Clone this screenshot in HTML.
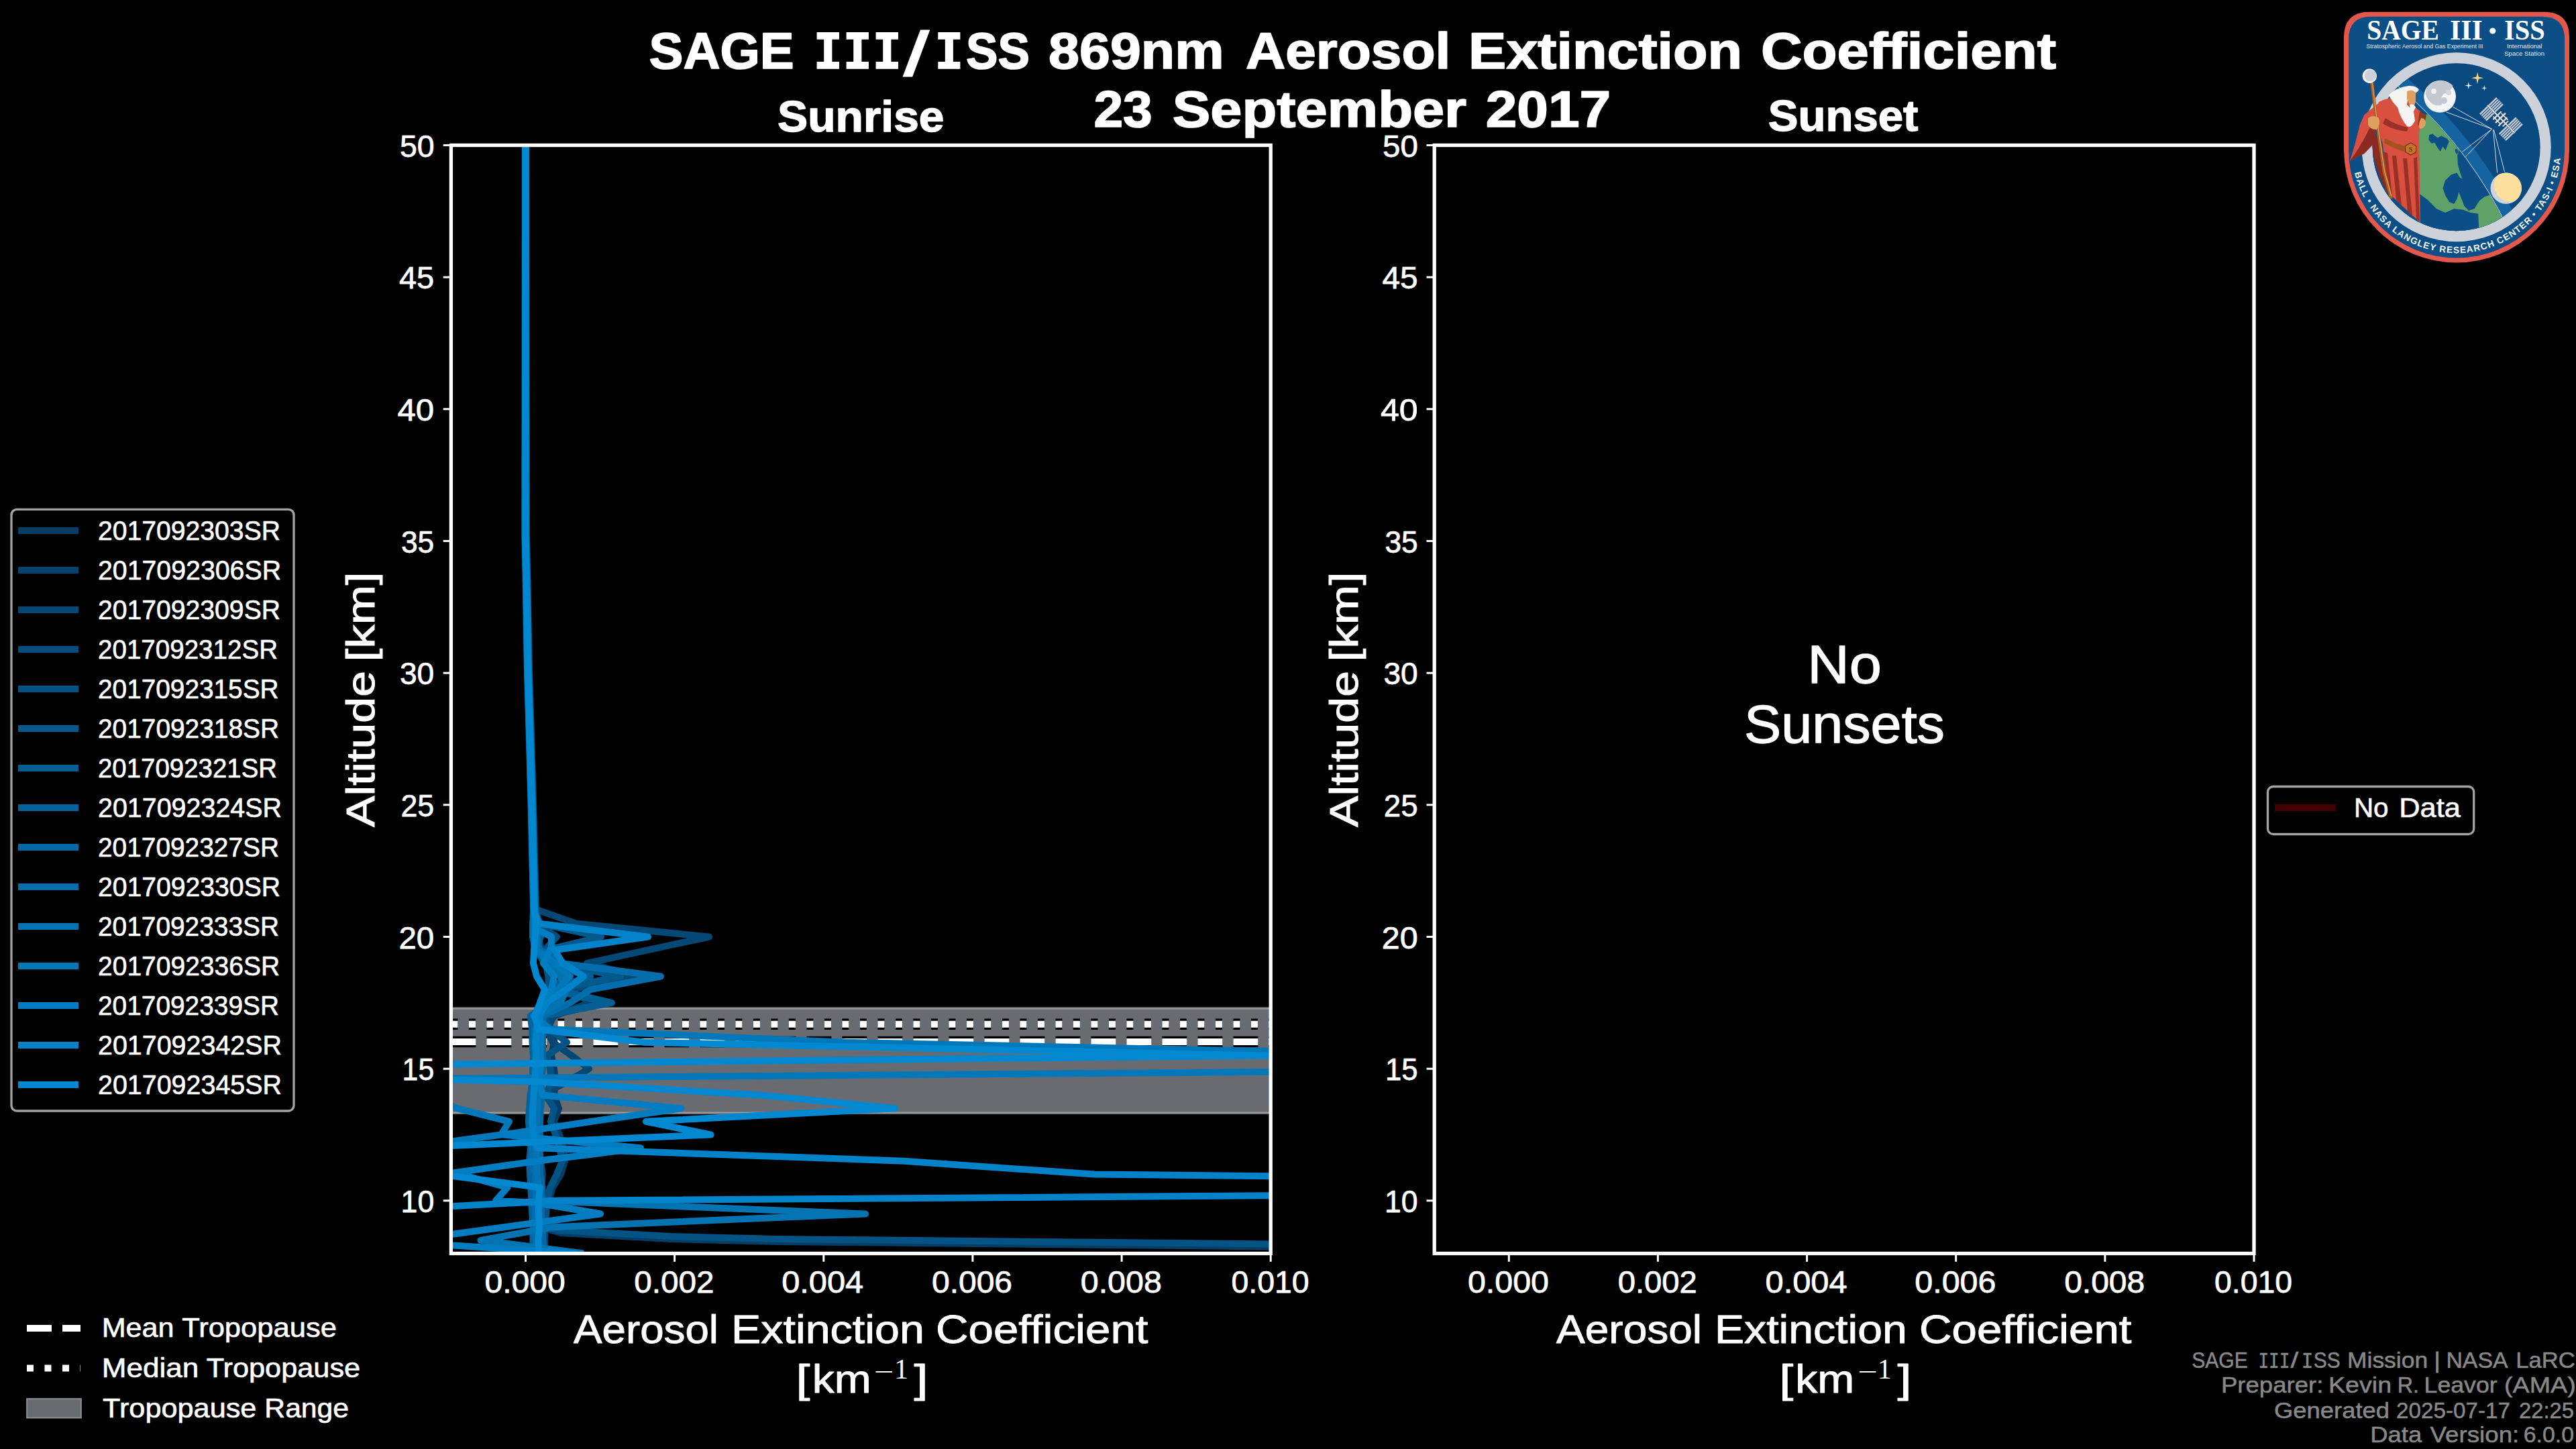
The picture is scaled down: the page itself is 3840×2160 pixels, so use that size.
<!DOCTYPE html>
<html><head><meta charset="utf-8"><title>SAGE III/ISS 869nm Aerosol Extinction Coefficient</title>
<style>html,body{margin:0;padding:0;background:#000;overflow:hidden}svg{display:block}text{white-space:pre}</style>
</head><body>
<svg width="3840" height="2160" viewBox="0 0 3840 2160">
<rect width="3840" height="2160" fill="#000"/>
<text x="967.50" y="101.8" font-size="76.7" font-family="'Liberation Sans', sans-serif" font-weight="bold" fill="#fff" text-anchor="start" textLength="216.2" lengthAdjust="spacingAndGlyphs" stroke="#fff" stroke-width="1.69" stroke-linejoin="round">SAGE</text>
<text x="1212.20" y="101.8" font-size="72.5" font-family="'DejaVu Sans Mono', monospace" font-weight="bold" fill="#fff" text-anchor="start" textLength="132.2" lengthAdjust="spacingAndGlyphs" stroke="#fff" stroke-width="1.5">III</text>
<text x="1348.50" y="112.0" font-size="90" font-family="'Liberation Sans', sans-serif" font-weight="normal" fill="#fff" text-anchor="start" textLength="34.9" lengthAdjust="spacingAndGlyphs" stroke="#fff" stroke-width="3.2">/</text>
<text x="1393.00" y="101.8" font-size="72.5" font-family="'DejaVu Sans Mono', monospace" font-weight="bold" fill="#fff" text-anchor="start" textLength="43.7" lengthAdjust="spacingAndGlyphs" stroke="#fff" stroke-width="1.5">I</text>
<text x="1440.00" y="101.8" font-size="76.7" font-family="'Liberation Sans', sans-serif" font-weight="bold" fill="#fff" text-anchor="start" textLength="95.0" lengthAdjust="spacingAndGlyphs" stroke="#fff" stroke-width="1.69" stroke-linejoin="round">SS</text>
<text x="1563.10" y="101.8" font-size="76.7" font-family="'Liberation Sans', sans-serif" font-weight="bold" fill="#fff" text-anchor="start" textLength="261.5" lengthAdjust="spacingAndGlyphs" stroke="#fff" stroke-width="1.69" stroke-linejoin="round">869nm</text>
<text x="1857.00" y="101.8" font-size="76.7" font-family="'Liberation Sans', sans-serif" font-weight="bold" fill="#fff" text-anchor="start" textLength="305.3" lengthAdjust="spacingAndGlyphs" stroke="#fff" stroke-width="1.69" stroke-linejoin="round">Aerosol</text>
<text x="2189.10" y="101.8" font-size="76.7" font-family="'Liberation Sans', sans-serif" font-weight="bold" fill="#fff" text-anchor="start" textLength="408.0" lengthAdjust="spacingAndGlyphs" stroke="#fff" stroke-width="1.69" stroke-linejoin="round">Extinction</text>
<text x="2625.10" y="101.8" font-size="76.7" font-family="'Liberation Sans', sans-serif" font-weight="bold" fill="#fff" text-anchor="start" textLength="439.9" lengthAdjust="spacingAndGlyphs" stroke="#fff" stroke-width="1.69" stroke-linejoin="round">Coefficient</text>
<text x="1630.40" y="189.1" font-size="76.7" font-family="'Liberation Sans', sans-serif" font-weight="bold" fill="#fff" text-anchor="start" textLength="87.4" lengthAdjust="spacingAndGlyphs" stroke="#fff" stroke-width="1.69" stroke-linejoin="round">23</text>
<text x="1747.80" y="189.1" font-size="76.7" font-family="'Liberation Sans', sans-serif" font-weight="bold" fill="#fff" text-anchor="start" textLength="438.3" lengthAdjust="spacingAndGlyphs" stroke="#fff" stroke-width="1.69" stroke-linejoin="round">September</text>
<text x="2214.70" y="189.1" font-size="76.7" font-family="'Liberation Sans', sans-serif" font-weight="bold" fill="#fff" text-anchor="start" textLength="186.4" lengthAdjust="spacingAndGlyphs" stroke="#fff" stroke-width="1.69" stroke-linejoin="round">2017</text>
<text x="1159.00" y="195.6" font-size="65" font-family="'Liberation Sans', sans-serif" font-weight="bold" fill="#fff" text-anchor="start" textLength="248.5" lengthAdjust="spacingAndGlyphs" stroke="#fff" stroke-width="1.43" stroke-linejoin="round">Sunrise</text>
<text x="2635.70" y="195.4" font-size="65" font-family="'Liberation Sans', sans-serif" font-weight="bold" fill="#fff" text-anchor="start" textLength="223.8" lengthAdjust="spacingAndGlyphs" stroke="#fff" stroke-width="1.43" stroke-linejoin="round">Sunset</text>
<clipPath id="clipA"><rect x="672.4" y="216.5" width="1221.8" height="1652.0"/></clipPath>
<g clip-path="url(#clipA)">
<rect x="672.4" y="1501.35" width="1221.8" height="159.50" fill="#7d8081"/>
<rect x="672.4" y="1503.00" width="1221.8" height="156.20" fill="#9da0a1"/>
<rect x="672.4" y="1504.65" width="1221.8" height="152.90" fill="#686b70"/>
<line x1="672.4" x2="1894.2" y1="1526.7" y2="1526.7" stroke="#000" stroke-width="16.5" stroke-dasharray="10 16.5"/>
<line x1="672.4" x2="1894.2" y1="1526.7" y2="1526.7" stroke="#fff" stroke-width="10" stroke-dasharray="10 16.5"/>
<line x1="672.4" x2="1894.2" y1="1553" y2="1553" stroke="#000" stroke-width="16.5" stroke-dasharray="37 16"/>
<line x1="672.4" x2="1894.2" y1="1553" y2="1553" stroke="#fff" stroke-width="10" stroke-dasharray="37 16"/>
<polyline points="783.9,216.5 784.9,800.0 786.1,850.0 789.0,1000.0 792.1,1100.0 795.1,1200.0 799.1,1357.1 799.5,1376.8 803.0,1396.5 807.0,1416.2 813.1,1435.8 818.9,1455.5 821.3,1475.2 816.0,1494.8 813.6,1514.5 822.0,1534.2 826.0,1553.8 822.0,1573.5 826.0,1593.2 828.0,1612.8 826.0,1632.5 833.0,1652.2 826.0,1671.8 834.0,1691.5 840.0,1711.2 842.0,1730.8 836.0,1750.5 824.0,1770.2 818.0,1789.8 812.0,1809.5 805.0,1829.2 836.0,1838.0 1000.0,1847.0 1160.0,1851.0 1900.0,1858.5" fill="none" stroke="#043e66" stroke-width="10" stroke-linejoin="round" stroke-linecap="butt"/>
<polyline points="783.7,216.5 784.3,800.0 785.5,850.0 788.2,1000.0 791.3,1100.0 794.2,1200.0 798.1,1357.1 803.6,1357.2 859.0,1376.8 1057.0,1396.5 966.0,1416.2 875.0,1435.8 952.0,1455.5 850.0,1475.2 880.0,1494.8 826.0,1514.5 815.0,1534.2 824.0,1553.8 852.0,1573.5 878.0,1593.2 845.0,1612.8 806.0,1632.5 803.6,1652.2 804.2,1671.8 802.8,1691.5 803.9,1711.2 806.2,1730.8 808.8,1750.5 807.0,1770.2 808.4,1789.8 810.0,1809.5 812.3,1829.2 811.8,1848.8 812.1,1868.5" fill="none" stroke="#044975" stroke-width="10" stroke-linejoin="round" stroke-linecap="butt"/>
<polyline points="783.6,216.5 784.1,800.0 785.3,850.0 788.0,1000.0 791.1,1100.0 793.9,1200.0 797.8,1357.1 800.5,1376.8 830.0,1396.5 812.0,1416.2 828.0,1435.8 922.0,1455.5 832.0,1475.2 905.0,1494.8 815.0,1514.5 806.0,1534.2 809.2,1553.8 807.0,1573.5 806.4,1593.2 805.3,1612.8 805.0,1632.5 805.1,1652.2 801.5,1671.8 803.1,1691.5 804.4,1711.2 804.3,1730.8 806.0,1750.5 805.1,1770.2 806.0,1789.8 806.6,1809.5 809.5,1829.2 809.5,1848.8 810.1,1868.5" fill="none" stroke="#044e7d" stroke-width="10" stroke-linejoin="round" stroke-linecap="butt"/>
<polyline points="783.8,216.5 784.6,800.0 785.8,850.0 788.6,1000.0 791.7,1100.0 794.7,1200.0 798.6,1357.1 799.9,1376.8 803.0,1396.5 804.4,1416.2 813.6,1435.8 817.2,1455.5 818.4,1475.2 815.7,1494.8 811.2,1514.5 820.0,1534.2 845.0,1553.8 815.0,1573.5 820.0,1593.2 822.0,1612.8 813.0,1632.5 826.0,1652.2 821.0,1671.8 828.0,1691.5 834.0,1711.2 838.0,1730.8 830.0,1750.5 820.0,1770.2 815.0,1789.8 814.0,1809.5 812.0,1829.2 832.0,1834.0 1000.0,1843.0 1160.0,1847.0 1900.0,1854.5" fill="none" stroke="#035385" stroke-width="10" stroke-linejoin="round" stroke-linecap="butt"/>
<polyline points="783.5,216.5 783.8,800.0 784.9,850.0 787.6,1000.0 790.7,1100.0 793.5,1200.0 797.3,1357.1 805.0,1376.8 896.0,1396.5 815.0,1416.2 830.0,1435.8 925.0,1455.5 830.0,1475.2 912.0,1494.8 808.0,1514.5 806.8,1534.2 806.2,1553.8 804.4,1573.5 807.2,1593.2 802.7,1612.8 802.9,1632.5 802.3,1652.2 798.9,1671.8 800.2,1691.5 799.4,1711.2 802.9,1730.8 804.3,1750.5 804.5,1770.2 806.8,1789.8 804.5,1809.5 807.0,1829.2 807.6,1848.8 808.6,1868.5" fill="none" stroke="#03588c" stroke-width="10" stroke-linejoin="round" stroke-linecap="butt"/>
<polyline points="783.1,216.5 782.7,800.0 783.8,850.0 786.3,1000.0 789.2,1100.0 791.9,1200.0 795.5,1357.1 795.6,1376.8 806.0,1396.5 799.0,1416.2 812.0,1435.8 880.0,1455.5 818.0,1475.2 910.0,1494.8 806.0,1514.5 797.7,1534.2 795.8,1553.8 796.6,1573.5 794.1,1593.2 795.7,1612.8 794.5,1632.5 793.9,1652.2 792.2,1671.8 790.0,1691.5 791.4,1711.2 793.6,1730.8 792.0,1750.5 794.7,1770.2 794.6,1789.8 794.4,1809.5 795.1,1829.2 799.0,1848.8 797.4,1868.5" fill="none" stroke="#035e94" stroke-width="10" stroke-linejoin="round" stroke-linecap="butt"/>
<polyline points="782.9,216.5 782.4,800.0 783.4,850.0 785.9,1000.0 788.8,1100.0 791.5,1200.0 795.1,1357.1 794.2,1376.8 794.0,1396.5 797.9,1416.2 822.0,1435.8 842.0,1455.5 824.0,1475.2 820.0,1494.8 790.7,1514.5 793.1,1534.2 793.5,1553.8 794.9,1573.5 794.6,1593.2 793.8,1612.8 790.5,1632.5 789.0,1652.2 787.8,1671.8 789.9,1691.5 791.2,1711.2 789.0,1730.8 790.1,1750.5 791.3,1770.2 792.3,1789.8 793.3,1809.5 794.7,1829.2 794.4,1848.8 794.4,1868.5" fill="none" stroke="#03639c" stroke-width="10" stroke-linejoin="round" stroke-linecap="butt"/>
<polyline points="783.7,216.5 784.2,800.0 785.4,850.0 788.1,1000.0 791.2,1100.0 794.1,1200.0 797.9,1357.1 798.5,1376.8 801.1,1396.5 803.9,1416.2 835.0,1435.8 850.0,1455.5 838.0,1475.2 828.0,1494.8 809.5,1514.5 809.4,1534.2 808.7,1553.8 809.1,1573.5 809.4,1593.2 805.9,1612.8 808.2,1632.5 805.8,1652.2 805.1,1671.8 804.8,1691.5 804.2,1711.2 805.2,1730.8 805.1,1750.5 808.2,1770.2 806.9,1789.8 806.9,1809.5 808.5,1829.2 809.3,1848.8 811.0,1868.5" fill="none" stroke="#0368a3" stroke-width="10" stroke-linejoin="round" stroke-linecap="butt"/>
<polyline points="783.2,216.5 783.0,800.0 784.1,850.0 786.6,1000.0 789.6,1100.0 792.4,1200.0 796.0,1357.1 794.6,1376.8 794.8,1396.5 805.0,1416.2 834.0,1435.8 985.0,1455.5 880.0,1475.2 850.0,1494.8 808.0,1514.5 797.1,1534.2 796.9,1553.8 797.9,1573.5 796.6,1593.2 798.9,1612.8 796.9,1632.5 793.0,1652.2 792.5,1671.8 792.8,1691.5 793.9,1711.2 793.9,1730.8 797.8,1750.5 799.4,1770.2 798.3,1789.8 798.4,1809.5 797.8,1829.2 798.9,1848.8 800.8,1868.5" fill="none" stroke="#036eab" stroke-width="10" stroke-linejoin="round" stroke-linecap="butt"/>
<polyline points="783.4,216.5 783.6,800.0 784.7,850.0 787.4,1000.0 790.4,1100.0 793.2,1200.0 797.0,1357.1 796.7,1376.8 800.5,1396.5 799.8,1416.2 818.0,1435.8 835.0,1455.5 845.0,1475.2 835.0,1494.8 800.6,1514.5 805.4,1534.2 803.7,1553.8 802.1,1573.5 803.7,1593.2 800.7,1612.8 801.7,1632.5 801.5,1652.2 800.0,1671.8 799.3,1691.5 798.6,1711.2 800.0,1730.8 800.2,1750.5 803.0,1770.2 800.0,1789.8 1290.0,1809.5 825.0,1829.2 716.5,1848.8 870.0,1868.5" fill="none" stroke="#0373b2" stroke-width="10" stroke-linejoin="round" stroke-linecap="butt"/>
<polyline points="783.1,216.5 782.8,800.0 783.9,850.0 786.4,1000.0 789.3,1100.0 792.1,1200.0 795.7,1357.1 797.1,1376.8 796.1,1396.5 799.1,1416.2 828.0,1435.8 848.0,1455.5 832.0,1475.2 815.0,1494.8 795.1,1514.5 820.0,1534.2 1260.0,1553.8 2200.0,1573.5 2480.0,1593.2 25.0,1612.8 640.0,1632.5 681.0,1652.2 759.0,1671.8 747.0,1691.5 600.0,1711.2 620.0,1730.8 640.0,1750.5 650.0,1770.2 655.0,1789.8 660.0,1809.5 665.0,1829.2 668.0,1848.8 670.0,1868.5" fill="none" stroke="#0278ba" stroke-width="10" stroke-linejoin="round" stroke-linecap="butt"/>
<polyline points="783.5,216.5 783.7,800.0 784.8,850.0 787.5,1000.0 790.5,1100.0 793.4,1200.0 797.1,1357.1 796.7,1376.8 803.0,1386.6 822.0,1396.5 822.0,1412.0 820.0,1416.2 810.0,1435.8 826.0,1455.5 822.0,1475.2 812.0,1494.8 804.6,1514.5 806.3,1534.2 805.8,1553.8 805.6,1573.5 805.7,1593.2 803.0,1612.8 809.0,1632.5 1015.5,1652.2 882.0,1671.8 750.0,1691.5 955.0,1711.2 873.8,1721.8 800.0,1730.8 700.0,1745.0 660.0,1750.5 694.0,1752.6 756.4,1770.2 739.0,1789.8 800.0,1793.0 895.0,1809.5 752.0,1829.2 675.0,1839.7 560.0,1848.8 860.0,1868.5" fill="none" stroke="#027dc2" stroke-width="10" stroke-linejoin="round" stroke-linecap="butt"/>
<polyline points="783.2,216.5 783.1,800.0 784.2,850.0 786.8,1000.0 789.7,1100.0 792.5,1200.0 796.2,1357.1 803.0,1376.8 966.0,1396.5 826.7,1416.2 839.0,1435.8 870.0,1455.5 844.0,1475.2 815.0,1494.8 803.0,1514.5 800.3,1534.2 798.2,1553.8 799.4,1573.5 798.7,1593.2 796.4,1612.8 795.4,1632.5 794.4,1652.2 793.3,1671.8 795.1,1691.5 800.0,1711.2 1347.0,1730.8 1631.0,1750.5 3600.0,1770.2 830.0,1789.8 462.0,1809.5 560.0,1829.2 600.0,1848.8 650.0,1868.5" fill="none" stroke="#0283c9" stroke-width="10" stroke-linejoin="round" stroke-linecap="butt"/>
<polyline points="783.3,216.5 783.3,800.0 784.4,850.0 787.0,1000.0 790.0,1100.0 792.8,1200.0 796.5,1357.1 798.8,1376.8 797.8,1396.5 796.0,1416.2 795.0,1435.8 800.0,1455.5 812.0,1475.2 805.0,1494.8 797.0,1514.5 803.0,1534.2 960.0,1553.8 1890.0,1573.5 33.0,1593.2 805.0,1612.8 1134.0,1632.5 1334.0,1652.2 963.0,1671.8 1059.5,1691.5 594.0,1711.2 640.0,1730.8 655.0,1750.5 805.0,1770.2 802.7,1789.8 803.0,1809.5 803.8,1829.2 802.5,1848.8 802.9,1868.5" fill="none" stroke="#0288d1" stroke-width="10" stroke-linejoin="round" stroke-linecap="butt"/>
</g>
<line x1="660.7" x2="672.4" y1="1789.8" y2="1789.8" stroke="#fff" stroke-width="3"/>
<line x1="660.7" x2="672.4" y1="1593.2" y2="1593.2" stroke="#fff" stroke-width="3"/>
<line x1="660.7" x2="672.4" y1="1396.5" y2="1396.5" stroke="#fff" stroke-width="3"/>
<line x1="660.7" x2="672.4" y1="1199.8" y2="1199.8" stroke="#fff" stroke-width="3"/>
<line x1="660.7" x2="672.4" y1="1003.2" y2="1003.2" stroke="#fff" stroke-width="3"/>
<line x1="660.7" x2="672.4" y1="806.5" y2="806.5" stroke="#fff" stroke-width="3"/>
<line x1="660.7" x2="672.4" y1="609.8" y2="609.8" stroke="#fff" stroke-width="3"/>
<line x1="660.7" x2="672.4" y1="413.2" y2="413.2" stroke="#fff" stroke-width="3"/>
<line x1="660.7" x2="672.4" y1="216.5" y2="216.5" stroke="#fff" stroke-width="3"/>
<line x1="783.5" x2="783.5" y1="1868.5" y2="1880.8" stroke="#fff" stroke-width="3"/>
<line x1="1005.6" x2="1005.6" y1="1868.5" y2="1880.8" stroke="#fff" stroke-width="3"/>
<line x1="1227.8" x2="1227.8" y1="1868.5" y2="1880.8" stroke="#fff" stroke-width="3"/>
<line x1="1449.9" x2="1449.9" y1="1868.5" y2="1880.8" stroke="#fff" stroke-width="3"/>
<line x1="1672.1" x2="1672.1" y1="1868.5" y2="1880.8" stroke="#fff" stroke-width="3"/>
<line x1="1894.2" x2="1894.2" y1="1868.5" y2="1880.8" stroke="#fff" stroke-width="3"/>
<rect x="672.4" y="216.5" width="1221.8" height="1652.0" fill="none" stroke="#fff" stroke-width="5.3"/>
<text x="647.20" y="1806.8" font-size="46.7" font-family="'Liberation Sans', sans-serif" font-weight="normal" fill="#fff" text-anchor="end" textLength="49.6" lengthAdjust="spacingAndGlyphs" stroke="#fff" stroke-width="0.75" stroke-linejoin="round">10</text>
<text x="647.20" y="1610.2" font-size="46.7" font-family="'Liberation Sans', sans-serif" font-weight="normal" fill="#fff" text-anchor="end" textLength="47.6" lengthAdjust="spacingAndGlyphs" stroke="#fff" stroke-width="0.75" stroke-linejoin="round">15</text>
<text x="647.20" y="1413.5" font-size="46.7" font-family="'Liberation Sans', sans-serif" font-weight="normal" fill="#fff" text-anchor="end" textLength="52.8" lengthAdjust="spacingAndGlyphs" stroke="#fff" stroke-width="0.75" stroke-linejoin="round">20</text>
<text x="647.20" y="1216.8" font-size="46.7" font-family="'Liberation Sans', sans-serif" font-weight="normal" fill="#fff" text-anchor="end" textLength="49.8" lengthAdjust="spacingAndGlyphs" stroke="#fff" stroke-width="0.75" stroke-linejoin="round">25</text>
<text x="647.20" y="1020.2" font-size="46.7" font-family="'Liberation Sans', sans-serif" font-weight="normal" fill="#fff" text-anchor="end" textLength="51.3" lengthAdjust="spacingAndGlyphs" stroke="#fff" stroke-width="0.75" stroke-linejoin="round">30</text>
<text x="647.20" y="823.5" font-size="46.7" font-family="'Liberation Sans', sans-serif" font-weight="normal" fill="#fff" text-anchor="end" textLength="49.3" lengthAdjust="spacingAndGlyphs" stroke="#fff" stroke-width="0.75" stroke-linejoin="round">35</text>
<text x="647.20" y="626.8" font-size="46.7" font-family="'Liberation Sans', sans-serif" font-weight="normal" fill="#fff" text-anchor="end" textLength="54.7" lengthAdjust="spacingAndGlyphs" stroke="#fff" stroke-width="0.75" stroke-linejoin="round">40</text>
<text x="647.20" y="430.2" font-size="46.7" font-family="'Liberation Sans', sans-serif" font-weight="normal" fill="#fff" text-anchor="end" textLength="52.3" lengthAdjust="spacingAndGlyphs" stroke="#fff" stroke-width="0.75" stroke-linejoin="round">45</text>
<text x="647.60" y="233.5" font-size="46.7" font-family="'Liberation Sans', sans-serif" font-weight="normal" fill="#fff" text-anchor="end" textLength="51.7" lengthAdjust="spacingAndGlyphs" stroke="#fff" stroke-width="0.75" stroke-linejoin="round">50</text>
<text x="782.60" y="1926.6" font-size="46.7" font-family="'Liberation Sans', sans-serif" font-weight="normal" fill="#fff" text-anchor="middle" textLength="120.1" lengthAdjust="spacingAndGlyphs" stroke="#fff" stroke-width="0.75" stroke-linejoin="round">0.000</text>
<text x="1004.90" y="1926.6" font-size="46.7" font-family="'Liberation Sans', sans-serif" font-weight="normal" fill="#fff" text-anchor="middle" textLength="119.2" lengthAdjust="spacingAndGlyphs" stroke="#fff" stroke-width="0.75" stroke-linejoin="round">0.002</text>
<text x="1226.20" y="1926.6" font-size="46.7" font-family="'Liberation Sans', sans-serif" font-weight="normal" fill="#fff" text-anchor="middle" textLength="122.1" lengthAdjust="spacingAndGlyphs" stroke="#fff" stroke-width="0.75" stroke-linejoin="round">0.004</text>
<text x="1449.00" y="1926.6" font-size="46.7" font-family="'Liberation Sans', sans-serif" font-weight="normal" fill="#fff" text-anchor="middle" textLength="120.1" lengthAdjust="spacingAndGlyphs" stroke="#fff" stroke-width="0.75" stroke-linejoin="round">0.006</text>
<text x="1671.30" y="1926.6" font-size="46.7" font-family="'Liberation Sans', sans-serif" font-weight="normal" fill="#fff" text-anchor="middle" textLength="121.1" lengthAdjust="spacingAndGlyphs" stroke="#fff" stroke-width="0.75" stroke-linejoin="round">0.008</text>
<text x="1893.60" y="1926.6" font-size="46.7" font-family="'Liberation Sans', sans-serif" font-weight="normal" fill="#fff" text-anchor="middle" textLength="116.1" lengthAdjust="spacingAndGlyphs" stroke="#fff" stroke-width="0.75" stroke-linejoin="round">0.010</text>
<text x="855.00" y="2002.0" font-size="58.5" font-family="'Liberation Sans', sans-serif" font-weight="normal" fill="#fff" text-anchor="start" textLength="216.0" lengthAdjust="spacingAndGlyphs" stroke="#fff" stroke-width="0.94" stroke-linejoin="round">Aerosol</text>
<text x="1090.00" y="2002.0" font-size="58.5" font-family="'Liberation Sans', sans-serif" font-weight="normal" fill="#fff" text-anchor="start" textLength="287.8" lengthAdjust="spacingAndGlyphs" stroke="#fff" stroke-width="0.94" stroke-linejoin="round">Extinction</text>
<text x="1395.00" y="2002.0" font-size="58.5" font-family="'Liberation Sans', sans-serif" font-weight="normal" fill="#fff" text-anchor="start" textLength="316.5" lengthAdjust="spacingAndGlyphs" stroke="#fff" stroke-width="0.94" stroke-linejoin="round">Coefficient</text>
<text x="1186.40" y="2076.4" font-size="60" font-family="'Liberation Sans', sans-serif" font-weight="normal" fill="#fff" text-anchor="start" textLength="21.0" lengthAdjust="spacingAndGlyphs" stroke="#fff" stroke-width="0.96" stroke-linejoin="round">[</text>
<text x="1210.70" y="2076.4" font-size="60" font-family="'Liberation Sans', sans-serif" font-weight="normal" fill="#fff" text-anchor="start" textLength="87.9" lengthAdjust="spacingAndGlyphs" stroke="#fff" stroke-width="0.96" stroke-linejoin="round">km</text>
<text x="1303.10" y="2059.0" font-size="42" font-family="'Liberation Serif', serif" font-weight="normal" fill="#fff" text-anchor="start" textLength="29.3" lengthAdjust="spacingAndGlyphs">&#8722;</text>
<text x="1333.00" y="2055.0" font-size="42" font-family="'Liberation Serif', serif" font-weight="normal" fill="#fff" text-anchor="start">1</text>
<text x="1362.60" y="2076.4" font-size="60" font-family="'Liberation Sans', sans-serif" font-weight="normal" fill="#fff" text-anchor="start" textLength="21.0" lengthAdjust="spacingAndGlyphs" stroke="#fff" stroke-width="0.96" stroke-linejoin="round">]</text>
<text transform="translate(558.4,1233) rotate(-90)" font-size="60" font-family="'Liberation Sans', sans-serif" fill="#fff" stroke="#fff" stroke-width="0.96" textLength="233" lengthAdjust="spacingAndGlyphs">Altitude</text>
<text transform="translate(558.4,986.5) rotate(-90)" font-size="60" font-family="'Liberation Sans', sans-serif" fill="#fff" stroke="#fff" stroke-width="0.96" textLength="134" lengthAdjust="spacingAndGlyphs">[km]</text>
<line x1="2126.5" x2="2138.2" y1="1789.8" y2="1789.8" stroke="#fff" stroke-width="3"/>
<line x1="2126.5" x2="2138.2" y1="1593.2" y2="1593.2" stroke="#fff" stroke-width="3"/>
<line x1="2126.5" x2="2138.2" y1="1396.5" y2="1396.5" stroke="#fff" stroke-width="3"/>
<line x1="2126.5" x2="2138.2" y1="1199.8" y2="1199.8" stroke="#fff" stroke-width="3"/>
<line x1="2126.5" x2="2138.2" y1="1003.2" y2="1003.2" stroke="#fff" stroke-width="3"/>
<line x1="2126.5" x2="2138.2" y1="806.5" y2="806.5" stroke="#fff" stroke-width="3"/>
<line x1="2126.5" x2="2138.2" y1="609.8" y2="609.8" stroke="#fff" stroke-width="3"/>
<line x1="2126.5" x2="2138.2" y1="413.2" y2="413.2" stroke="#fff" stroke-width="3"/>
<line x1="2126.5" x2="2138.2" y1="216.5" y2="216.5" stroke="#fff" stroke-width="3"/>
<line x1="2249.3" x2="2249.3" y1="1868.5" y2="1880.8" stroke="#fff" stroke-width="3"/>
<line x1="2471.4" x2="2471.4" y1="1868.5" y2="1880.8" stroke="#fff" stroke-width="3"/>
<line x1="2693.6" x2="2693.6" y1="1868.5" y2="1880.8" stroke="#fff" stroke-width="3"/>
<line x1="2915.7" x2="2915.7" y1="1868.5" y2="1880.8" stroke="#fff" stroke-width="3"/>
<line x1="3137.9" x2="3137.9" y1="1868.5" y2="1880.8" stroke="#fff" stroke-width="3"/>
<line x1="3360.0" x2="3360.0" y1="1868.5" y2="1880.8" stroke="#fff" stroke-width="3"/>
<rect x="2138.2" y="216.5" width="1221.8" height="1652.0" fill="none" stroke="#fff" stroke-width="5.3"/>
<text x="2113.60" y="1806.8" font-size="46.7" font-family="'Liberation Sans', sans-serif" font-weight="normal" fill="#fff" text-anchor="end" textLength="49.5" lengthAdjust="spacingAndGlyphs" stroke="#fff" stroke-width="0.75" stroke-linejoin="round">10</text>
<text x="2113.60" y="1610.2" font-size="46.7" font-family="'Liberation Sans', sans-serif" font-weight="normal" fill="#fff" text-anchor="end" textLength="48.6" lengthAdjust="spacingAndGlyphs" stroke="#fff" stroke-width="0.75" stroke-linejoin="round">15</text>
<text x="2113.60" y="1413.5" font-size="46.7" font-family="'Liberation Sans', sans-serif" font-weight="normal" fill="#fff" text-anchor="end" textLength="53.8" lengthAdjust="spacingAndGlyphs" stroke="#fff" stroke-width="0.75" stroke-linejoin="round">20</text>
<text x="2113.60" y="1216.8" font-size="46.7" font-family="'Liberation Sans', sans-serif" font-weight="normal" fill="#fff" text-anchor="end" textLength="50.8" lengthAdjust="spacingAndGlyphs" stroke="#fff" stroke-width="0.75" stroke-linejoin="round">25</text>
<text x="2113.60" y="1020.2" font-size="46.7" font-family="'Liberation Sans', sans-serif" font-weight="normal" fill="#fff" text-anchor="end" textLength="51.2" lengthAdjust="spacingAndGlyphs" stroke="#fff" stroke-width="0.75" stroke-linejoin="round">30</text>
<text x="2113.60" y="823.5" font-size="46.7" font-family="'Liberation Sans', sans-serif" font-weight="normal" fill="#fff" text-anchor="end" textLength="49.2" lengthAdjust="spacingAndGlyphs" stroke="#fff" stroke-width="0.75" stroke-linejoin="round">35</text>
<text x="2113.60" y="626.8" font-size="46.7" font-family="'Liberation Sans', sans-serif" font-weight="normal" fill="#fff" text-anchor="end" textLength="55.7" lengthAdjust="spacingAndGlyphs" stroke="#fff" stroke-width="0.75" stroke-linejoin="round">40</text>
<text x="2113.60" y="430.2" font-size="46.7" font-family="'Liberation Sans', sans-serif" font-weight="normal" fill="#fff" text-anchor="end" textLength="53.2" lengthAdjust="spacingAndGlyphs" stroke="#fff" stroke-width="0.75" stroke-linejoin="round">45</text>
<text x="2113.80" y="233.5" font-size="46.7" font-family="'Liberation Sans', sans-serif" font-weight="normal" fill="#fff" text-anchor="end" textLength="52.8" lengthAdjust="spacingAndGlyphs" stroke="#fff" stroke-width="0.75" stroke-linejoin="round">50</text>
<text x="2248.50" y="1926.6" font-size="46.7" font-family="'Liberation Sans', sans-serif" font-weight="normal" fill="#fff" text-anchor="middle" textLength="121.1" lengthAdjust="spacingAndGlyphs" stroke="#fff" stroke-width="0.75" stroke-linejoin="round">0.000</text>
<text x="2470.80" y="1926.6" font-size="46.7" font-family="'Liberation Sans', sans-serif" font-weight="normal" fill="#fff" text-anchor="middle" textLength="118.2" lengthAdjust="spacingAndGlyphs" stroke="#fff" stroke-width="0.75" stroke-linejoin="round">0.002</text>
<text x="2692.60" y="1926.6" font-size="46.7" font-family="'Liberation Sans', sans-serif" font-weight="normal" fill="#fff" text-anchor="middle" textLength="122.1" lengthAdjust="spacingAndGlyphs" stroke="#fff" stroke-width="0.75" stroke-linejoin="round">0.004</text>
<text x="2914.90" y="1926.6" font-size="46.7" font-family="'Liberation Sans', sans-serif" font-weight="normal" fill="#fff" text-anchor="middle" textLength="121.2" lengthAdjust="spacingAndGlyphs" stroke="#fff" stroke-width="0.75" stroke-linejoin="round">0.006</text>
<text x="3137.20" y="1926.6" font-size="46.7" font-family="'Liberation Sans', sans-serif" font-weight="normal" fill="#fff" text-anchor="middle" textLength="120.1" lengthAdjust="spacingAndGlyphs" stroke="#fff" stroke-width="0.75" stroke-linejoin="round">0.008</text>
<text x="3359.00" y="1926.6" font-size="46.7" font-family="'Liberation Sans', sans-serif" font-weight="normal" fill="#fff" text-anchor="middle" textLength="116.0" lengthAdjust="spacingAndGlyphs" stroke="#fff" stroke-width="0.75" stroke-linejoin="round">0.010</text>
<text x="2320.00" y="2002.0" font-size="58.5" font-family="'Liberation Sans', sans-serif" font-weight="normal" fill="#fff" text-anchor="start" textLength="217.1" lengthAdjust="spacingAndGlyphs" stroke="#fff" stroke-width="0.94" stroke-linejoin="round">Aerosol</text>
<text x="2556.00" y="2002.0" font-size="58.5" font-family="'Liberation Sans', sans-serif" font-weight="normal" fill="#fff" text-anchor="start" textLength="286.7" lengthAdjust="spacingAndGlyphs" stroke="#fff" stroke-width="0.94" stroke-linejoin="round">Extinction</text>
<text x="2861.00" y="2002.0" font-size="58.5" font-family="'Liberation Sans', sans-serif" font-weight="normal" fill="#fff" text-anchor="start" textLength="316.5" lengthAdjust="spacingAndGlyphs" stroke="#fff" stroke-width="0.94" stroke-linejoin="round">Coefficient</text>
<text x="2652.20" y="2076.4" font-size="60" font-family="'Liberation Sans', sans-serif" font-weight="normal" fill="#fff" text-anchor="start" textLength="21.0" lengthAdjust="spacingAndGlyphs" stroke="#fff" stroke-width="0.96" stroke-linejoin="round">[</text>
<text x="2676.30" y="2076.4" font-size="60" font-family="'Liberation Sans', sans-serif" font-weight="normal" fill="#fff" text-anchor="start" textLength="87.9" lengthAdjust="spacingAndGlyphs" stroke="#fff" stroke-width="0.96" stroke-linejoin="round">km</text>
<text x="2769.50" y="2059.0" font-size="42" font-family="'Liberation Serif', serif" font-weight="normal" fill="#fff" text-anchor="start" textLength="29.3" lengthAdjust="spacingAndGlyphs">&#8722;</text>
<text x="2798.80" y="2055.0" font-size="42" font-family="'Liberation Serif', serif" font-weight="normal" fill="#fff" text-anchor="start">1</text>
<text x="2828.40" y="2076.4" font-size="60" font-family="'Liberation Sans', sans-serif" font-weight="normal" fill="#fff" text-anchor="start" textLength="21.0" lengthAdjust="spacingAndGlyphs" stroke="#fff" stroke-width="0.96" stroke-linejoin="round">]</text>
<text transform="translate(2024.2,1233) rotate(-90)" font-size="60" font-family="'Liberation Sans', sans-serif" fill="#fff" stroke="#fff" stroke-width="0.96" textLength="233" lengthAdjust="spacingAndGlyphs">Altitude</text>
<text transform="translate(2024.2,986.5) rotate(-90)" font-size="60" font-family="'Liberation Sans', sans-serif" fill="#fff" stroke="#fff" stroke-width="0.96" textLength="134" lengthAdjust="spacingAndGlyphs">[km]</text>
<rect x="17" y="759.4" width="421" height="896.6" rx="8" fill="#000" stroke="#a3a3a3" stroke-width="3.3"/>
<line x1="27" x2="117" y1="791" y2="791" stroke="#043e66" stroke-width="10"/>
<text x="146.00" y="804.6" font-size="40" font-family="'Liberation Sans', sans-serif" font-weight="normal" fill="#fff" text-anchor="start" textLength="272.0" lengthAdjust="spacingAndGlyphs" stroke="#fff" stroke-width="0.64" stroke-linejoin="round">2017092303SR</text>
<line x1="27" x2="117" y1="850" y2="850" stroke="#04436e" stroke-width="10"/>
<text x="146.00" y="863.6" font-size="40" font-family="'Liberation Sans', sans-serif" font-weight="normal" fill="#fff" text-anchor="start" textLength="273.0" lengthAdjust="spacingAndGlyphs" stroke="#fff" stroke-width="0.64" stroke-linejoin="round">2017092306SR</text>
<line x1="27" x2="117" y1="909" y2="909" stroke="#044975" stroke-width="10"/>
<text x="146.00" y="922.6" font-size="40" font-family="'Liberation Sans', sans-serif" font-weight="normal" fill="#fff" text-anchor="start" textLength="272.0" lengthAdjust="spacingAndGlyphs" stroke="#fff" stroke-width="0.64" stroke-linejoin="round">2017092309SR</text>
<line x1="27" x2="117" y1="968" y2="968" stroke="#044e7d" stroke-width="10"/>
<text x="146.00" y="981.6" font-size="40" font-family="'Liberation Sans', sans-serif" font-weight="normal" fill="#fff" text-anchor="start" textLength="268.0" lengthAdjust="spacingAndGlyphs" stroke="#fff" stroke-width="0.64" stroke-linejoin="round">2017092312SR</text>
<line x1="27" x2="117" y1="1027" y2="1027" stroke="#035385" stroke-width="10"/>
<text x="146.00" y="1040.6" font-size="40" font-family="'Liberation Sans', sans-serif" font-weight="normal" fill="#fff" text-anchor="start" textLength="269.5" lengthAdjust="spacingAndGlyphs" stroke="#fff" stroke-width="0.64" stroke-linejoin="round">2017092315SR</text>
<line x1="27" x2="117" y1="1086" y2="1086" stroke="#03588c" stroke-width="10"/>
<text x="146.00" y="1099.6" font-size="40" font-family="'Liberation Sans', sans-serif" font-weight="normal" fill="#fff" text-anchor="start" textLength="270.0" lengthAdjust="spacingAndGlyphs" stroke="#fff" stroke-width="0.64" stroke-linejoin="round">2017092318SR</text>
<line x1="27" x2="117" y1="1145" y2="1145" stroke="#035e94" stroke-width="10"/>
<text x="146.00" y="1158.6" font-size="40" font-family="'Liberation Sans', sans-serif" font-weight="normal" fill="#fff" text-anchor="start" textLength="267.0" lengthAdjust="spacingAndGlyphs" stroke="#fff" stroke-width="0.64" stroke-linejoin="round">2017092321SR</text>
<line x1="27" x2="117" y1="1204" y2="1204" stroke="#03639c" stroke-width="10"/>
<text x="146.00" y="1217.6" font-size="40" font-family="'Liberation Sans', sans-serif" font-weight="normal" fill="#fff" text-anchor="start" textLength="274.0" lengthAdjust="spacingAndGlyphs" stroke="#fff" stroke-width="0.64" stroke-linejoin="round">2017092324SR</text>
<line x1="27" x2="117" y1="1263" y2="1263" stroke="#0368a3" stroke-width="10"/>
<text x="146.00" y="1276.6" font-size="40" font-family="'Liberation Sans', sans-serif" font-weight="normal" fill="#fff" text-anchor="start" textLength="270.0" lengthAdjust="spacingAndGlyphs" stroke="#fff" stroke-width="0.64" stroke-linejoin="round">2017092327SR</text>
<line x1="27" x2="117" y1="1322" y2="1322" stroke="#036eab" stroke-width="10"/>
<text x="146.00" y="1335.6" font-size="40" font-family="'Liberation Sans', sans-serif" font-weight="normal" fill="#fff" text-anchor="start" textLength="272.0" lengthAdjust="spacingAndGlyphs" stroke="#fff" stroke-width="0.64" stroke-linejoin="round">2017092330SR</text>
<line x1="27" x2="117" y1="1381" y2="1381" stroke="#0373b2" stroke-width="10"/>
<text x="146.00" y="1394.6" font-size="40" font-family="'Liberation Sans', sans-serif" font-weight="normal" fill="#fff" text-anchor="start" textLength="270.0" lengthAdjust="spacingAndGlyphs" stroke="#fff" stroke-width="0.64" stroke-linejoin="round">2017092333SR</text>
<line x1="27" x2="117" y1="1440" y2="1440" stroke="#0278ba" stroke-width="10"/>
<text x="146.00" y="1453.6" font-size="40" font-family="'Liberation Sans', sans-serif" font-weight="normal" fill="#fff" text-anchor="start" textLength="271.1" lengthAdjust="spacingAndGlyphs" stroke="#fff" stroke-width="0.64" stroke-linejoin="round">2017092336SR</text>
<line x1="27" x2="117" y1="1499" y2="1499" stroke="#027dc2" stroke-width="10"/>
<text x="146.00" y="1512.6" font-size="40" font-family="'Liberation Sans', sans-serif" font-weight="normal" fill="#fff" text-anchor="start" textLength="270.0" lengthAdjust="spacingAndGlyphs" stroke="#fff" stroke-width="0.64" stroke-linejoin="round">2017092339SR</text>
<line x1="27" x2="117" y1="1558" y2="1558" stroke="#0283c9" stroke-width="10"/>
<text x="146.00" y="1571.6" font-size="40" font-family="'Liberation Sans', sans-serif" font-weight="normal" fill="#fff" text-anchor="start" textLength="274.0" lengthAdjust="spacingAndGlyphs" stroke="#fff" stroke-width="0.64" stroke-linejoin="round">2017092342SR</text>
<line x1="27" x2="117" y1="1617" y2="1617" stroke="#0288d1" stroke-width="10"/>
<text x="146.00" y="1630.6" font-size="40" font-family="'Liberation Sans', sans-serif" font-weight="normal" fill="#fff" text-anchor="start" textLength="274.0" lengthAdjust="spacingAndGlyphs" stroke="#fff" stroke-width="0.64" stroke-linejoin="round">2017092345SR</text>
<line x1="40" x2="120" y1="1980" y2="1980" stroke="#fff" stroke-width="10" stroke-dasharray="37 16"/>
<line x1="40" x2="120" y1="2039.6" y2="2039.6" stroke="#fff" stroke-width="10" stroke-dasharray="10 16.5"/>
<rect x="40.1" y="2085.2" width="80.7" height="28.3" fill="#686b70" stroke="#8d9092" stroke-width="2"/>
<text x="151.70" y="1993.4" font-size="40" font-family="'Liberation Sans', sans-serif" font-weight="normal" fill="#fff" text-anchor="start" textLength="107.9" lengthAdjust="spacingAndGlyphs" stroke="#fff" stroke-width="0.64" stroke-linejoin="round">Mean</text>
<text x="271.20" y="1993.4" font-size="40" font-family="'Liberation Sans', sans-serif" font-weight="normal" fill="#fff" text-anchor="start" textLength="230.7" lengthAdjust="spacingAndGlyphs" stroke="#fff" stroke-width="0.64" stroke-linejoin="round">Tropopause</text>
<text x="151.70" y="2053.2" font-size="40" font-family="'Liberation Sans', sans-serif" font-weight="normal" fill="#fff" text-anchor="start" textLength="144.5" lengthAdjust="spacingAndGlyphs" stroke="#fff" stroke-width="0.64" stroke-linejoin="round">Median</text>
<text x="307.70" y="2053.2" font-size="40" font-family="'Liberation Sans', sans-serif" font-weight="normal" fill="#fff" text-anchor="start" textLength="229.5" lengthAdjust="spacingAndGlyphs" stroke="#fff" stroke-width="0.64" stroke-linejoin="round">Tropopause</text>
<text x="153.10" y="2112.9" font-size="40" font-family="'Liberation Sans', sans-serif" font-weight="normal" fill="#fff" text-anchor="start" textLength="229.3" lengthAdjust="spacingAndGlyphs" stroke="#fff" stroke-width="0.64" stroke-linejoin="round">Tropopause</text>
<text x="394.30" y="2112.9" font-size="40" font-family="'Liberation Sans', sans-serif" font-weight="normal" fill="#fff" text-anchor="start" textLength="125.8" lengthAdjust="spacingAndGlyphs" stroke="#fff" stroke-width="0.64" stroke-linejoin="round">Range</text>
<rect x="3380.5" y="1172.5" width="307.2" height="71" rx="8" fill="#000" stroke="#a3a3a3" stroke-width="3.3"/>
<line x1="3391" x2="3481" y1="1204" y2="1204" stroke="#430000" stroke-width="10"/>
<text x="3508.90" y="1217.6" font-size="40" font-family="'Liberation Sans', sans-serif" font-weight="normal" fill="#fff" text-anchor="start" textLength="51.6" lengthAdjust="spacingAndGlyphs" stroke="#fff" stroke-width="0.64" stroke-linejoin="round">No</text>
<text x="3576.30" y="1217.6" font-size="40" font-family="'Liberation Sans', sans-serif" font-weight="normal" fill="#fff" text-anchor="start" textLength="91.5" lengthAdjust="spacingAndGlyphs" stroke="#fff" stroke-width="0.64" stroke-linejoin="round">Data</text>
<text x="2694.20" y="1018.4" font-size="80" font-family="'Liberation Sans', sans-serif" font-weight="normal" fill="#fff" text-anchor="start" textLength="110.7" lengthAdjust="spacingAndGlyphs" stroke="#fff" stroke-width="1.28" stroke-linejoin="round">No</text>
<text x="2600.00" y="1107.0" font-size="80" font-family="'Liberation Sans', sans-serif" font-weight="normal" fill="#fff" text-anchor="start" textLength="299.0" lengthAdjust="spacingAndGlyphs" stroke="#fff" stroke-width="1.28" stroke-linejoin="round">Sunsets</text>
<text x="3366.40" y="2038.5" font-size="31" font-family="'DejaVu Sans Mono', monospace" font-weight="normal" fill="#888" text-anchor="start" textLength="46.9" lengthAdjust="spacingAndGlyphs" stroke="#888" stroke-width="0.50" stroke-linejoin="round">III</text>
<text x="3430.70" y="2038.5" font-size="31" font-family="'DejaVu Sans Mono', monospace" font-weight="normal" fill="#888" text-anchor="start" textLength="17.5" lengthAdjust="spacingAndGlyphs" stroke="#888" stroke-width="0.50" stroke-linejoin="round">I</text>
<text x="3628.80" y="2038.5" font-size="33.3" font-family="'Liberation Sans', sans-serif" font-weight="normal" fill="#888" text-anchor="start" stroke="#888" stroke-width="1">|</text>
<text x="3267.20" y="2038.5" font-size="33.3" font-family="'Liberation Sans', sans-serif" font-weight="normal" fill="#888" text-anchor="start" textLength="83.5" lengthAdjust="spacingAndGlyphs" stroke="#888" stroke-width="0.53" stroke-linejoin="round">SAGE</text>
<text x="3414.60" y="2038.5" font-size="33.3" font-family="'Liberation Sans', sans-serif" font-weight="normal" fill="#888" text-anchor="start" textLength="11.8" lengthAdjust="spacingAndGlyphs" stroke="#888" stroke-width="0.53" stroke-linejoin="round">/</text>
<text x="3448.80" y="2038.5" font-size="33.3" font-family="'Liberation Sans', sans-serif" font-weight="normal" fill="#888" text-anchor="start" textLength="39.9" lengthAdjust="spacingAndGlyphs" stroke="#888" stroke-width="0.53" stroke-linejoin="round">SS</text>
<text x="3499.00" y="2038.5" font-size="33.3" font-family="'Liberation Sans', sans-serif" font-weight="normal" fill="#888" text-anchor="start" textLength="120.1" lengthAdjust="spacingAndGlyphs" stroke="#888" stroke-width="0.53" stroke-linejoin="round">Mission</text>
<text x="3646.40" y="2038.5" font-size="33.3" font-family="'Liberation Sans', sans-serif" font-weight="normal" fill="#888" text-anchor="start" textLength="92.2" lengthAdjust="spacingAndGlyphs" stroke="#888" stroke-width="0.53" stroke-linejoin="round">NASA</text>
<text x="3750.20" y="2038.5" font-size="33.3" font-family="'Liberation Sans', sans-serif" font-weight="normal" fill="#888" text-anchor="start" textLength="88.6" lengthAdjust="spacingAndGlyphs" stroke="#888" stroke-width="0.53" stroke-linejoin="round">LaRC</text>
<text x="3311.00" y="2076.2" font-size="33.3" font-family="'Liberation Sans', sans-serif" font-weight="normal" fill="#888" text-anchor="start" textLength="152.3" lengthAdjust="spacingAndGlyphs" stroke="#888" stroke-width="0.53" stroke-linejoin="round">Preparer:</text>
<text x="3471.00" y="2076.2" font-size="33.3" font-family="'Liberation Sans', sans-serif" font-weight="normal" fill="#888" text-anchor="start" textLength="94.1" lengthAdjust="spacingAndGlyphs" stroke="#888" stroke-width="0.53" stroke-linejoin="round">Kevin</text>
<text x="3573.80" y="2076.2" font-size="33.3" font-family="'Liberation Sans', sans-serif" font-weight="normal" fill="#888" text-anchor="start" textLength="32.2" lengthAdjust="spacingAndGlyphs" stroke="#888" stroke-width="0.53" stroke-linejoin="round">R.</text>
<text x="3613.60" y="2076.2" font-size="33.3" font-family="'Liberation Sans', sans-serif" font-weight="normal" fill="#888" text-anchor="start" textLength="109.1" lengthAdjust="spacingAndGlyphs" stroke="#888" stroke-width="0.53" stroke-linejoin="round">Leavor</text>
<text x="3733.00" y="2076.2" font-size="33.3" font-family="'Liberation Sans', sans-serif" font-weight="normal" fill="#888" text-anchor="start" textLength="106.7" lengthAdjust="spacingAndGlyphs" stroke="#888" stroke-width="0.53" stroke-linejoin="round">(AMA)</text>
<text x="3390.00" y="2113.5" font-size="33.3" font-family="'Liberation Sans', sans-serif" font-weight="normal" fill="#888" text-anchor="start" textLength="172.0" lengthAdjust="spacingAndGlyphs" stroke="#888" stroke-width="0.53" stroke-linejoin="round">Generated</text>
<text x="3572.00" y="2113.5" font-size="33.3" font-family="'Liberation Sans', sans-serif" font-weight="normal" fill="#888" text-anchor="start" textLength="169.9" lengthAdjust="spacingAndGlyphs" stroke="#888" stroke-width="0.53" stroke-linejoin="round">2025-07-17</text>
<text x="3755.00" y="2113.5" font-size="33.3" font-family="'Liberation Sans', sans-serif" font-weight="normal" fill="#888" text-anchor="start" textLength="82.0" lengthAdjust="spacingAndGlyphs" stroke="#888" stroke-width="0.53" stroke-linejoin="round">22:25</text>
<text x="3533.20" y="2150.3" font-size="33.3" font-family="'Liberation Sans', sans-serif" font-weight="normal" fill="#888" text-anchor="start" textLength="77.1" lengthAdjust="spacingAndGlyphs" stroke="#888" stroke-width="0.53" stroke-linejoin="round">Data</text>
<text x="3622.60" y="2150.3" font-size="33.3" font-family="'Liberation Sans', sans-serif" font-weight="normal" fill="#888" text-anchor="start" textLength="132.7" lengthAdjust="spacingAndGlyphs" stroke="#888" stroke-width="0.53" stroke-linejoin="round">Version:</text>
<text x="3761.80" y="2150.3" font-size="33.3" font-family="'Liberation Sans', sans-serif" font-weight="normal" fill="#888" text-anchor="start" textLength="75.3" lengthAdjust="spacingAndGlyphs" stroke="#888" stroke-width="0.53" stroke-linejoin="round">6.0.0</text>
<g id="logo">
<path d="M3494.0,223.5 L3494.0,55.7 Q3494.0,17.7 3532.0,17.7 L3792.0,17.7 Q3830.0,17.7 3830.0,55.7 L3830.0,223.5 A168.0,168.0 0 0 1 3494.0,223.5 Z" fill="#e4584b"/>
<path d="M3501.0,223.5 L3501.0,58.5 Q3501.0,24.7 3534.8,24.7 L3789.2,24.7 Q3823.0,24.7 3823.0,58.5 L3823.0,223.5 A161.0,161.0 0 0 1 3501.0,223.5 Z" fill="#0c4f86"/>
<circle cx="3661.7" cy="219.2" r="141.0" fill="#cdd1da"/>
<circle cx="3661.7" cy="219.2" r="125.0" fill="#0b4a80"/>
<clipPath id="lgclip"><circle cx="3661.7" cy="219.2" r="125.0"/></clipPath>
<g clip-path="url(#lgclip)">
<circle cx="3177.4" cy="605.2" r="638.5" fill="#15649f"/>
<circle cx="3177.4" cy="605.2" r="620.5" fill="#0c4f86" stroke="#e6eef7" stroke-width="0.9"/>
<clipPath id="earthclip"><circle cx="3177.4" cy="605.2" r="619.9"/></clipPath>
<polygon points="3604.5,173.5 3637.8,166.2 3677.0,222.8 3665.4,224.2 3663.2,231.4 3663.9,245.9 3668.3,260.4 3670.4,266.2 3666.8,264.8 3662.5,257.5 3653.8,260.4 3645.1,269.1 3641.4,280.7 3645.1,290.9 3650.9,301.0 3658.1,303.9 3662.5,296.7 3665.4,286.5 3668.3,293.8 3673.3,306.8 3679.9,314.1 3688.6,311.2 3695.8,299.6 3703.0,293.8 3710.3,290.9 3727.7,293.8 3749.4,340.0 3695.1,340.0 3694.3,318.4 3682.8,317.0 3671.2,312.6 3658.1,311.2 3645.1,317.0 3632.0,311.2 3619.0,298.1 3607.4,289.4 3604.5,289.4" fill="#5ea267" clip-path="url(#earthclip)"/>
<polygon points="3621.2,201.0 3626.2,199.6 3633.5,205.4 3639.3,202.5 3648.0,206.8 3650.9,211.2 3648.0,217.0 3645.8,224.2 3641.4,218.4 3637.8,225.7 3633.5,219.9 3629.1,212.6 3624.8,214.1 3620.4,208.3" fill="#0c4f86"/>
<polygon points="3659.6,222.8 3662.5,221.3 3664.6,225.7 3662.5,230.0 3660.3,227.1" fill="#0c4f86"/>
<g stroke="#e6eef7" stroke-width="0.9" fill="none">
<path d="M3714.6,192.3 L3656,159"/><path d="M3714.6,192.3 L3646.5,167"/>
<path d="M3714.6,192.3 L3670.4,226.4"/><path d="M3714.6,192.3 L3675.5,233.6"/>
<path d="M3716.5,193.5 L3722.6,257.5"/><path d="M3717.5,193.5 L3733.5,256"/>
</g>
<circle cx="3637.1" cy="143.8" r="23.9" fill="#f4f5f7"/>
<path d="M3616.5,134 a24,24 0 0 1 40,-6 q-4,10 -14,12 q-6,8 -2,16 q-10,4 -18,-4 q-8,-8 -6,-18 Z" fill="#c4c8d0"/>
<circle cx="3628" cy="136" r="4" fill="#eef0f3"/><circle cx="3643" cy="150" r="5" fill="#c4c8d0"/><circle cx="3650" cy="138" r="4" fill="#d3d6dc"/>
<path d="M3693.1,107.2 L3694.72,114.58 L3702.1,116.2 L3694.72,117.82000000000001 L3693.1,125.2 L3691.48,117.82000000000001 L3684.1,116.2 L3691.48,114.58 Z" fill="#fbd77a"/>
<path d="M3679.8,121.9 L3680.79,126.41000000000001 L3685.3,127.4 L3680.79,128.39000000000001 L3679.8,132.9 L3678.8100000000004,128.39000000000001 L3674.3,127.4 L3678.8100000000004,126.41000000000001 Z" fill="#eef3f8"/>
<path d="M3703.3,127.10000000000001 L3704.056,130.544 L3707.5,131.3 L3704.056,132.056 L3703.3,135.5 L3702.5440000000003,132.056 L3699.1000000000004,131.3 L3702.5440000000003,130.544 Z" fill="#eef3f8"/>
<circle cx="3735.7" cy="280.7" r="23.2" fill="#cfd3db"/>
<clipPath id="sunclip"><circle cx="3735.7" cy="280.7" r="23.2"/></clipPath>
<circle cx="3742.5" cy="276" r="24.5" fill="#fde09b" clip-path="url(#sunclip)"/>
<g transform="translate(3728.4,177.5) rotate(45.7)">
<rect x="-28.45" y="-17.5" width="15.5" height="35" fill="#c6c9d0"/>
<rect x="-25.85" y="-17.5" width="1" height="35" fill="#0b4a80"/>
<rect x="-22.75" y="-17.5" width="1" height="35" fill="#0b4a80"/>
<rect x="-19.65" y="-17.5" width="1" height="35" fill="#0b4a80"/>
<rect x="-16.55" y="-17.5" width="1" height="35" fill="#0b4a80"/>
<rect x="-28.45" y="-1.4" width="15.5" height="2.8" fill="#0b4a80"/>
<rect x="12.95" y="-17.5" width="15.5" height="35" fill="#c6c9d0"/>
<rect x="15.55" y="-17.5" width="1" height="35" fill="#0b4a80"/>
<rect x="18.65" y="-17.5" width="1" height="35" fill="#0b4a80"/>
<rect x="21.75" y="-17.5" width="1" height="35" fill="#0b4a80"/>
<rect x="24.85" y="-17.5" width="1" height="35" fill="#0b4a80"/>
<rect x="12.95" y="-1.4" width="15.5" height="2.8" fill="#0b4a80"/>
<rect x="-29" y="-1" width="58" height="2" fill="#e6e0d6"/>
<rect x="-9" y="-8" width="2.2" height="17" fill="#e6e0d6"/><rect x="-3" y="-11" width="2.4" height="21" fill="#e6e0d6"/><rect x="3.5" y="-8" width="2.2" height="18" fill="#e6e0d6"/><rect x="8.5" y="-6" width="2" height="12" fill="#e6e0d6"/>
<rect x="-11" y="5" width="16" height="1.6" fill="#e6e0d6"/><rect x="-6" y="-7" width="14" height="1.6" fill="#e6e0d6"/>
</g>
</g>
<polygon points="3502.9,240.2 3515.9,221.2 3527.1,200.5 3534.0,186.7 3541.8,179.7 3541.8,210.8 3524.5,228.9" fill="#8c2a22"/>
<polygon points="3548.7,151.3 3524.5,171.1 3517.6,186.7 3510.7,214.3 3502.9,240.2 3515.9,221.2 3527.1,200.5 3534.0,186.7 3543.5,172.8" fill="#d94f40"/>
<polygon points="3538.3,193.6 3545.2,210.8 3552.1,255.7 3565.9,297.1 3559.0,288.5 3547.0,262.6 3539.2,236.7 3536.3,217.7" fill="#8c2a22"/>
<path d="M3546,152 Q3570,140 3590,150 L3610,168 L3606,200 L3608,332 Q3586,312 3563,290 L3556,256 L3552,215 L3540,176 Z" fill="#d94f40"/>
<g fill="#9c3027"><path d="M3566,232 L3572,232 L3580,306 L3572,298 Z"/><path d="M3582,236 L3588,236 L3596,322 L3589,316 Z"/><path d="M3598,236 L3603,234 L3607,330 L3602,326 Z"/><path d="M3553,226 L3559,228 L3566,290 L3561,286 Z"/><path d="M3556,176 Q3570,186 3590,190 L3588,196 Q3566,194 3552,184 Z"/></g>
<path d="M3555,206 Q3578,218 3602,222 L3602,230 Q3576,226 3554,213 Z" fill="#a5521f"/>
<path d="M3593.6,213 l8,4.5 l0,9 l-8,4.5 l-8,-4.5 l0,-9 Z" fill="#c8752c" stroke="#6e2f14" stroke-width="1.2"/>
<text x="3593.6" y="225.6" font-size="10" font-family="'Liberation Serif',serif" font-weight="bold" fill="#6e2f14" text-anchor="middle">S</text>
<path d="M3561,142 Q3572,130 3590,128 Q3602,127 3606,134 L3600,140 L3590,142 L3588,156 L3598,166 L3600,180 Q3594,192 3588,188 Q3578,176 3574,160 Q3566,152 3561,142 Z" fill="#f5f5f3"/>
<path d="M3588,136 Q3596,132 3601,138 L3601,150 L3599,158 L3592,156 L3588,148 Z" fill="#dea163"/>
<path d="M3592,156 Q3598,154 3601,160 L3598,166 Q3592,164 3592,156 Z" fill="#f5f5f3"/>
<path d="M3607,166 L3617,172 L3613,190 L3604,186 Z" fill="#8b3a1e"/>
<path d="M3609,176 Q3616,176 3616,184 Q3614,192 3607,192 Q3604,186 3609,176 Z" fill="#dea163"/>
<path d="M3535.7,123 L3541.8,172.8 L3553.9,255.7 L3558,270 L3564.2,294" fill="none" stroke="#a95d26" stroke-width="4.8" stroke-linecap="round" stroke-linejoin="round"/>
<path d="M3536.4,124 L3542.5,172.8 L3554.6,255.7 L3558.7,270 L3564.6,292" fill="none" stroke="#e0a055" stroke-width="1.3" stroke-linecap="round" stroke-linejoin="round"/>
<path d="M3530,176 Q3538,170 3546,176 Q3549,186 3543,193 Q3534,194 3530,186 Z" fill="#dea163"/>
<circle cx="3532.3" cy="113.3" r="10.7" fill="#f4f5f7"/><circle cx="3533.3" cy="112.6" r="8.8" fill="#cdd1da"/>
<text x="3528.2" y="58.9" font-size="42" font-family="'Liberation Serif', serif" font-weight="bold" fill="#fff" textLength="107.6" lengthAdjust="spacingAndGlyphs">SAGE</text>
<text x="3651.9" y="58.9" font-size="42" font-family="'Liberation Serif', serif" font-weight="bold" fill="#fff" textLength="48.9" lengthAdjust="spacingAndGlyphs">III</text>
<circle cx="3715.8" cy="46" r="4.6" fill="#fff"/>
<text x="3733" y="58.9" font-size="42" font-family="'Liberation Serif', serif" font-weight="bold" fill="#fff" textLength="60.7" lengthAdjust="spacingAndGlyphs">ISS</text>
<text x="3527.5" y="71.5" font-size="8.6" font-family="'Liberation Sans', sans-serif" font-weight="normal" fill="#e3e9f0" textLength="174" lengthAdjust="spacingAndGlyphs">Stratospheric Aerosol and Gas Experiment III</text>
<text x="3736.9" y="71.5" font-size="8.6" font-family="'Liberation Sans', sans-serif" font-weight="normal" fill="#e3e9f0" textLength="52.6" lengthAdjust="spacingAndGlyphs">International</text>
<text x="3733.2" y="82.7" font-size="8.6" font-family="'Liberation Sans', sans-serif" font-weight="normal" fill="#e3e9f0" textLength="59.8" lengthAdjust="spacingAndGlyphs">Space Station</text>
<path id="lgarc" d="M3510.0,257.6 A156.0,156.0 0 0 0 3817.0,236.2" fill="none"/>
<text font-size="13.6" font-family="'Liberation Sans', sans-serif" font-weight="bold" fill="#f2f5f9" textLength="438.4" lengthAdjust="spacing"><textPath href="#lgarc" textLength="438.4" lengthAdjust="spacing">BALL • NASA LANGLEY RESEARCH CENTER • TAS-I • ESA</textPath></text>
</g>
</svg>
</body></html>
